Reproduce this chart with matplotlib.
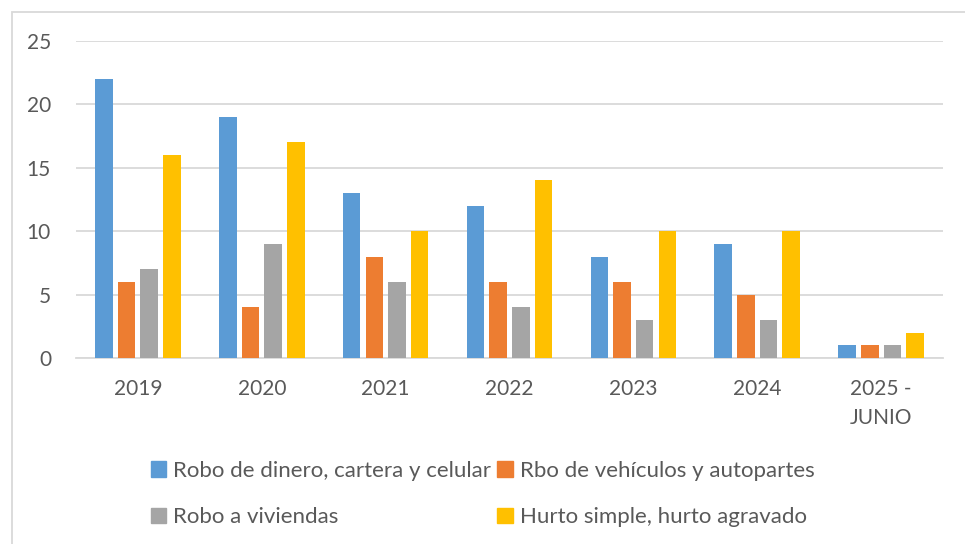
import matplotlib.pyplot as plt
import matplotlib.patches as mpatches
import numpy as np

plt.rcParams['font.family'] = ['Lato', 'DejaVu Sans']

years = ['2019', '2020', '2021', '2022', '2023', '2024', '2025 -\nJUNIO']
robo_dinero = [22, 19, 13, 12, 8, 9, 1]
robo_vehiculos = [6, 4, 8, 6, 6, 5, 1]
robo_viviendas = [7, 9, 6, 4, 3, 3, 1]
hurto = [16, 17, 10, 14, 10, 10, 2]

series = [
    ('Robo de dinero, cartera y celular', robo_dinero, '#5B9BD5'),
    ('Rbo de vehículos y autopartes', robo_vehiculos, '#ED7D31'),
    ('Robo a viviendas', robo_viviendas, '#A5A5A5'),
    ('Hurto simple, hurto agravado', hurto, '#FFC000'),
]

txt = '#595959'
grid = '#D9D9D9'

fig = plt.figure(figsize=(9.65, 5.44), dpi=100)
ax = fig.add_axes([76/965, 1 - 358/544, (943-76)/965, (358-41)/544])

x = np.arange(len(years))
step = 0.183
width = 0.142
for i, (name, vals, col) in enumerate(series):
    ax.bar(x + (i - 1.5) * step, vals, width, color=col, label=name, zorder=3)

ax.set_xlim(-0.5, len(years) - 0.5)
ax.set_ylim(0, 25)
ax.set_yticks(range(0, 26, 5))
ax.set_xticks(x)
ax.set_xticklabels(years, linespacing=1.6)
ax.grid(axis='y', color=grid, linewidth=1.3, zorder=0)
for s in ['top', 'right', 'left']:
    ax.spines[s].set_visible(False)
ax.spines['bottom'].set_color(grid)
ax.spines['bottom'].set_linewidth(1.3)
ax.tick_params(axis='both', length=0, labelsize=15, colors=txt)
ax.tick_params(axis='y', pad=18)
ax.tick_params(axis='x', pad=15)

# order so that columns read: blue/gray left, orange/yellow right
handles = [mpatches.Patch(color=c) for _, _, c in series]
labels = [n for n, _, _ in series]
order = [0, 2, 1, 3]
leg = fig.legend([handles[k] for k in order], [labels[k] for k in order],
                 ncol=2, loc='center', bbox_to_anchor=(0.5, 1 - 494/544),
                 frameon=False, fontsize=16, handlelength=0.7, handleheight=0.7,
                 handletextpad=0.3, columnspacing=0.3, labelspacing=1.2)
for t in leg.get_texts():
    t.set_color(txt)

# outer chart border
fig.patches.append(mpatches.Rectangle((12/965, -0.1), 1.2, 1.1 - 12/544,
                                      transform=fig.transFigure, fill=False,
                                      edgecolor=grid, linewidth=1.3))

fig.savefig('out.png', dpi=100)
